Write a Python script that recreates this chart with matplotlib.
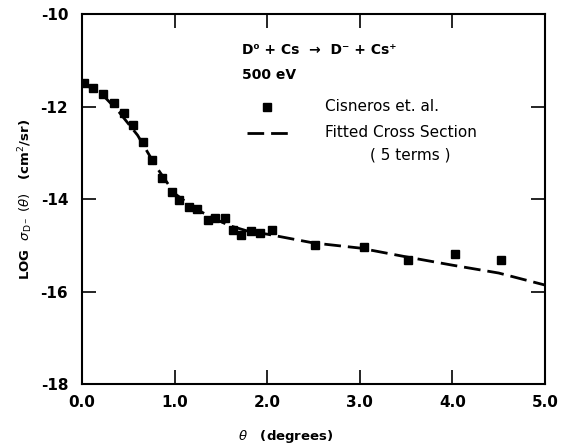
import matplotlib
matplotlib.use("Agg")
import matplotlib.pyplot as plt

# Cisneros et al. data (theta in degrees, log cross section)
theta_data = [0.02, 0.12, 0.23, 0.34, 0.45, 0.55, 0.66, 0.76, 0.86, 0.97,
              1.05, 1.15, 1.24, 1.36, 1.44, 1.54, 1.63, 1.72, 1.83, 1.92,
              2.05, 2.52, 3.04, 3.52, 4.03, 4.53]
log_sigma_data = [-11.50, -11.60, -11.73, -11.92, -12.15, -12.40, -12.76, -13.16, -13.55, -13.84,
                  -14.02, -14.17, -14.22, -14.46, -14.42, -14.40, -14.67, -14.78, -14.70, -14.74,
                  -14.68, -14.99, -15.03, -15.32, -15.19, -15.32]

# Fitted cross section (5 terms)
theta_fit = [0.0, 0.2, 0.4, 0.6, 0.8, 1.0, 1.2, 1.4, 1.6, 1.8, 2.0,
             2.5, 3.0, 3.5, 4.0, 4.5, 5.0]
log_sigma_fit = [-11.50, -11.70, -12.12, -12.62, -13.30, -13.88, -14.18, -14.40, -14.58, -14.70, -14.76,
                 -14.95, -15.06, -15.25, -15.43, -15.60, -15.86]

x_ticks = [0.0, 1.0, 2.0, 3.0, 4.0, 5.0]
x_ticklabels = ["0.0", "1.0", "2.0", "3.0", "4.0", "5.0"]
y_ticks = [-18, -16, -14, -12, -10]
y_ticklabels = ["-18", "-16", "-14", "-12", "-10"]

plt.rcParams['font.family'] = ['DejaVu Sans']
plt.rcParams['mathtext.fontset'] = 'dejavusans'

fig = plt.figure(figsize=(5.68, 4.45), dpi=100)
ax = fig.add_axes([0.1444, 0.137, 0.8151, 0.8315])

ax.plot(theta_fit, log_sigma_fit, color='black', linewidth=2.0,
        linestyle=(0, (6, 2.5)), zorder=2)
ax.plot(theta_data, log_sigma_data, linestyle='none', marker='s', markersize=6,
        color='black', zorder=3)

ax.set_xlim(0, 5)
ax.set_ylim(-18, -10)
ax.set_xticks(x_ticks)
ax.set_xticklabels(x_ticklabels, fontweight='bold', fontsize=11)
ax.set_yticks(y_ticks)
ax.set_yticklabels(y_ticklabels, fontweight='bold', fontsize=11)
ax.tick_params(direction='in', length=10, width=1.2, top=True, right=True)
ax.tick_params(axis='x', pad=8)
ax.tick_params(axis='y', pad=10)
for s in ax.spines.values():
    s.set_linewidth(1.5)

ax.set_xlabel(r"$\theta$   (degrees)", fontsize=9.5, fontweight='bold')
ax.xaxis.label.set_va('center')
ax.xaxis.set_label_coords(0.44, -0.143)
ax.set_ylabel(r"LOG  $\sigma_{\rm D^-}$ $(\theta)$   (cm$^2$/sr)", fontsize=9.5,
              fontweight='bold')
ax.yaxis.label.set_va('center')
ax.yaxis.set_label_coords(-0.122, 0.5)

ax.text(1.73, -10.78, "D⁰ + Cs  →  D⁻ + Cs⁺", fontsize=10, fontweight='bold',
        va='center', ha='left')
ax.text(1.73, -11.32, "500 eV", fontsize=10, fontweight='bold', va='center', ha='left')

# legend
ax.plot([2.0], [-12.0], linestyle='none', marker='s', markersize=6, color='black')
ax.text(2.62, -12.0, "Cisneros et. al.", fontsize=11, va='center', ha='left')
ax.plot([1.78, 2.27], [-12.57, -12.57], color='black', linewidth=2.0,
        linestyle=(0, (6, 2.5)))
ax.text(2.62, -12.57, "Fitted Cross Section", fontsize=11, va='center', ha='left')
ax.text(3.55, -13.05, "( 5 terms )", fontsize=11, va='center', ha='center')

fig.savefig("out.png", dpi=100)
